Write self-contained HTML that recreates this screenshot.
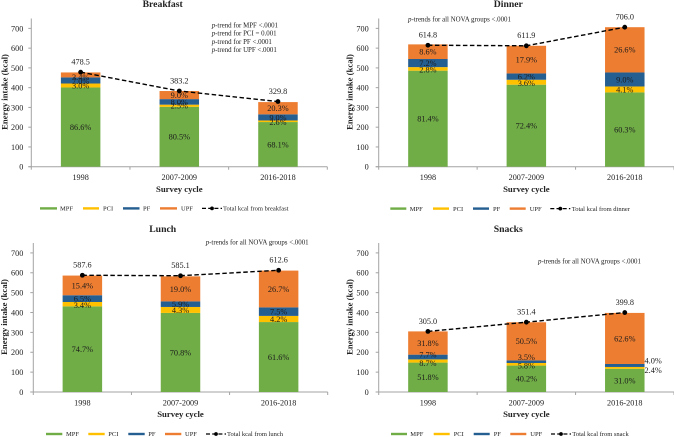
<!DOCTYPE html>
<html>
<head>
<meta charset="utf-8">
<title>Energy intake by NOVA group and eating occasion</title>
<style>
html,body{margin:0;padding:0;background:#fff;width:674px;height:437px;overflow:hidden}
svg{display:block;font-family:"Liberation Serif",serif;fill:#222;filter:blur(0.3px)}
</style>
</head>
<body>
<svg id="chart" width="674" height="437" viewBox="0 0 674 437" xmlns="http://www.w3.org/2000/svg"></svg>
<script>
const categories = ['1998', '2007-2009', '2016-2018'];
const yTickLabels = [0, 100, 200, 300, 400, 500, 600, 700];
const groupNames = ['MPF', 'PCI', 'PF', 'UPF'];

const breakfastMpf = [401, 303, 226];
const breakfastPci = [20, 11, 8];
const breakfastPf = [31, 28, 31];
const breakfastUpf = [25, 41, 62];
const breakfastTotal = [478.5, 383.2, 329.8];
const breakfastPctMpf = ['86.6%', '80.5%', '68.1%'];
const breakfastPctPci = ['3.0%', '2.5%', '2.6%'];
const breakfastPctPf = ['7.0%', '8.0%', '9.0%'];
const breakfastPctUpf = ['3.4%', '9.0%', '20.3%'];

const dinnerMpf = [486, 415, 376];
const dinnerPci = [18, 25, 30];
const dinnerPf = [41, 32, 71];
const dinnerUpf = [74, 140, 229];
const dinnerTotal = [614.8, 611.9, 706.0];
const dinnerPctMpf = ['81.4%', '72.4%', '60.3%'];
const dinnerPctPci = ['2.8%', '3.6%', '4.1%'];
const dinnerPctPf = ['7.2%', '6.2%', '9.0%'];
const dinnerPctUpf = ['8.6%', '17.9%', '26.6%'];

const lunchMpf = [431, 398, 352];
const lunchPci = [22, 30, 31];
const lunchPf = [34, 28, 43];
const lunchUpf = [99, 126, 185];
const lunchTotal = [587.6, 585.1, 612.6];
const lunchPctMpf = ['74.7%', '70.8%', '61.6%'];
const lunchPctPci = ['3.4%', '4.3%', '4.2%'];
const lunchPctPf = ['6.5%', '5.9%', '7.5%'];
const lunchPctUpf = ['15.4%', '19.0%', '26.7%'];

const snacksMpf = [148, 133, 117];
const snacksPci = [16, 13, 9];
const snacksPf = [24, 13, 15];
const snacksUpf = [117, 192, 257];
const snacksTotal = [305.0, 351.4, 399.8];
const snacksPctMpf = ['51.8%', '40.2%', '31.0%'];
const snacksPctPci = ['8.7%', '5.8%', '2.4%'];
const snacksPctPf = ['7.7%', '3.5%', '4.0%'];
const snacksPctUpf = ['31.8%', '50.5%', '62.6%'];

const NS = 'http://www.w3.org/2000/svg';
const svg = document.getElementById('chart');
const colors = ['#70AD47', '#FFC000', '#255E91', '#ED7D31'];
const axisColor = '#a3a3a3';

function make(tag, attrs, parent) {
  const el = document.createElementNS(NS, tag);
  for (const k in attrs) el.setAttribute(k, attrs[k]);
  parent.appendChild(el);
  return el;
}
function txt(str, x, y, size, anchor, parent, weight) {
  const t = make('text', {x: x, y: y, 'font-size': size, 'text-anchor': anchor || 'start'}, parent);
  if (weight) t.setAttribute('font-weight', weight);
  t.textContent = str;
  return t;
}

function drawPanel(p) {
  const g = make('g', {}, svg);
  
  

  const yScale = v => p.y0 - v * p.pxPerKcal;
  const band = (p.axisRight - p.axisLeft) / categories.length;
  const xScale = i => p.axisLeft + band * (i + 0.5);
  const barW = 39.5;

  const title = txt(p.title, p.titleX, p.titleY, 9.7, 'middle', g, 'bold');
  
  

  // axes
  const yAxis = make('line', {x1: p.axisLeft, x2: p.axisLeft, y1: yScale(750), y2: p.y0, stroke: axisColor, 'stroke-width': 1}, g);
  
  
  const xAxis = make('line', {x1: p.axisLeft - 3, x2: p.axisRight, y1: p.y0, y2: p.y0, stroke: axisColor, 'stroke-width': 1}, g);
  
  

  yTickLabels.forEach(v => {
    const y = yScale(v);
    make('line', {x1: p.axisLeft - 3, x2: p.axisLeft, y1: y, y2: y, stroke: axisColor, 'stroke-width': 1}, g);
    const t = txt(String(v), p.yLabelRight, y + 2.9, 8.2, 'end', g);
    
    
  });
  for (let i = 0; i <= categories.length; i++) {
    const x = p.axisLeft + band * i;
    make('line', {x1: x, x2: x, y1: p.y0, y2: p.y0 + 3, stroke: axisColor, 'stroke-width': 1}, g);
  }

  // bars
  categories.forEach((c, i) => {
    let base = 0;
    p.series.forEach((vals, s) => {
      const top = base + vals[i];
      const r = make('rect', {
        x: xScale(i) - barW / 2, y: yScale(top), width: barW,
        height: yScale(base) - yScale(top), fill: colors[s]
      }, g);
      
      
      base = top;
    });
  });

  // percentage labels
  categories.forEach((c, i) => {
    let base = 0;
    p.series.forEach((vals, s) => {
      const mid = base + vals[i] / 2;
      base += vals[i];
      const off = (p.labelOffsets && p.labelOffsets[i + '-' + s]) || [0, 0];
      const t = txt(p.pcts[s][i], xScale(i) + off[0], yScale(mid) + 2.9 + off[1], 8.3, 'middle', g);
      t.setAttribute('fill', '#1c1c1c');
      
      
    });
  });

  // total line
  const pts = p.total.map((v, i) => xScale(i) + ',' + yScale(v)).join(' ');
  const line = make('polyline', {points: pts, fill: 'none', stroke: '#000', 'stroke-width': 1.4, 'stroke-dasharray': '4.5 2.5'}, g);
  
  
  p.total.forEach((v, i) => {
    const d = make('circle', {cx: xScale(i), cy: yScale(v), r: 2.4, fill: '#000'}, g);
    
    
    const t = txt(v.toFixed(1), xScale(i), yScale(v) - 7.6, 8.2, 'middle', g);
    
    
  });

  // x tick labels and titles
  categories.forEach((c, i) => {
    const t = txt(c, xScale(i), p.y0 + 13.4, 8.2, 'middle', g);
    
    
  });
  const xt = txt('Survey cycle', (p.axisLeft + p.axisRight) / 2, p.y0 + 25.2, 8.7, 'middle', g, 'bold');
  
  
  const yt = txt('Energy intake (kcal)', 0, 0, 8.7, 'middle', g, 'bold');
  yt.setAttribute('transform', 'translate(' + (p.yTitleX + 2.8) + ' ' + p.yTitleY + ') rotate(-90)');
  
  

  // p-trend notes
  p.notes.forEach((n, i) => {
    const t = make('text', {x: p.noteX, y: p.noteY + i * 8.25 + 2.3, 'font-size': 6.9}, g);
    const em = make('tspan', {'font-style': 'italic'}, t);
    em.textContent = 'p';
    const rest = make('tspan', {}, t);
    rest.textContent = n;
    
    
  });

  // legend
  const ly = p.legendY;
  groupNames.forEach((n, i) => {
    const sw = make('rect', {x: p.legend[i][0], y: ly - 1.2, width: p.legend[i][1] - p.legend[i][0], height: 2.4, fill: colors[i]}, g);
    
    
    const t = txt(n, p.legend[i][2], ly + 2.2, 6.5, 'start', g);
    
    
  });
  const lg = p.legend[4];
  const ll = make('line', {x1: lg[0], x2: lg[1], y1: ly, y2: ly, stroke: '#000', 'stroke-width': 1.2, 'stroke-dasharray': '4 2.2'}, g);
  
  
  const ld = make('circle', {cx: (lg[0] + lg[1]) / 2, cy: ly, r: 1.9, fill: '#000'}, g);
  
  
  const lt = txt(p.legendText, lg[2], ly + 2.2, 6.5, 'start', g);
  
  
}

drawPanel({
  key: 'breakfast', title: 'Breakfast', titleX: 162.7, titleY: 6.8,
  axisLeft: 31.3, axisRight: 327.3, y0: 166.7, pxPerKcal: 0.1976, yLabelRight: 23.3,
  yTitleX: 4.5, yTitleY: 92,
  series: [breakfastMpf, breakfastPci, breakfastPf, breakfastUpf], total: breakfastTotal,
  pcts: [breakfastPctMpf, breakfastPctPci, breakfastPctPf, breakfastPctUpf],
  labelOffsets: {'0-3': [0, 2], '0-2': [0, 0.7], '2-1': [0, 0.7]},
  notes: ['-trend for MPF <.0001', '-trend for PCI = 0.001', '-trend for PF <.0001', '-trend for UPF <.0001'],
  noteX: 211.7, noteY: 25,
  legendY: 208.4, legendText: 'Total kcal from breakfast',
  legend: [[40, 57, 60], [83, 99, 103], [123, 139.5, 143], [160, 177, 181], [202, 222, 223]]
});
drawPanel({
  key: 'dinner', title: 'Dinner', titleX: 508.3, titleY: 6.8,
  axisLeft: 378.7, axisRight: 674, y0: 166.7, pxPerKcal: 0.1976, yLabelRight: 368.7,
  yTitleX: 349.7, yTitleY: 92,
  series: [dinnerMpf, dinnerPci, dinnerPf, dinnerUpf], total: dinnerTotal,
  pcts: [dinnerPctMpf, dinnerPctPci, dinnerPctPf, dinnerPctUpf],
  labelOffsets: {'0-1': [0, 0.7], '1-1': [0, 0.7]},
  notes: ['-trends for all NOVA groups <.0001'],
  noteX: 408, noteY: 19,
  legendY: 208.6, legendText: 'Total kcal from dinner',
  legend: [[390.3, 406.3, 409.7], [433, 449, 453], [473, 489, 493], [509.7, 525.7, 529.7], [550.3, 570.3, 571.7]]
});
drawPanel({
  key: 'lunch', title: 'Lunch', titleX: 162.7, titleY: 232,
  axisLeft: 33.3, axisRight: 327.7, y0: 392, pxPerKcal: 0.1987, yLabelRight: 23.3,
  yTitleX: 4, yTitleY: 317,
  series: [lunchMpf, lunchPci, lunchPf, lunchUpf], total: lunchTotal,
  pcts: [lunchPctMpf, lunchPctPci, lunchPctPf, lunchPctUpf],
  labelOffsets: {'0-1': [0, 1]},
  notes: ['-trends for all NOVA groups <.0001'],
  noteX: 205.7, noteY: 242.3,
  legendY: 434, legendText: 'Total kcal from lunch',
  legend: [[46, 62.3, 66], [88.3, 104.7, 108.3], [128.3, 144.7, 148.3], [165, 181.3, 185], [206, 226, 227]]
});
drawPanel({
  key: 'snacks', title: 'Snacks', titleX: 508.3, titleY: 232,
  axisLeft: 378.7, axisRight: 674, y0: 392, pxPerKcal: 0.1987, yLabelRight: 368.7,
  yTitleX: 349.7, yTitleY: 317,
  series: [snacksMpf, snacksPci, snacksPf, snacksUpf], total: snacksTotal,
  pcts: [snacksPctMpf, snacksPctPci, snacksPctPf, snacksPctUpf],
  labelOffsets: {'0-1': [0, 2.3], '0-2': [0, -2.3], '1-1': [0, 1.3], '1-2': [0, -4.7], '2-1': [28.4, 2], '2-2': [28.4, -5]},
  notes: ['-trends for all NOVA groups <.0001'],
  noteX: 538, noteY: 261.3,
  legendY: 434, legendText: 'Total kcal from snack',
  legend: [[391, 407, 410.3], [433.7, 449.7, 453.7], [473.7, 489.7, 493.7], [510.3, 526.3, 530.3], [551, 571, 572.3]]
});
</script>
</body>
</html>
